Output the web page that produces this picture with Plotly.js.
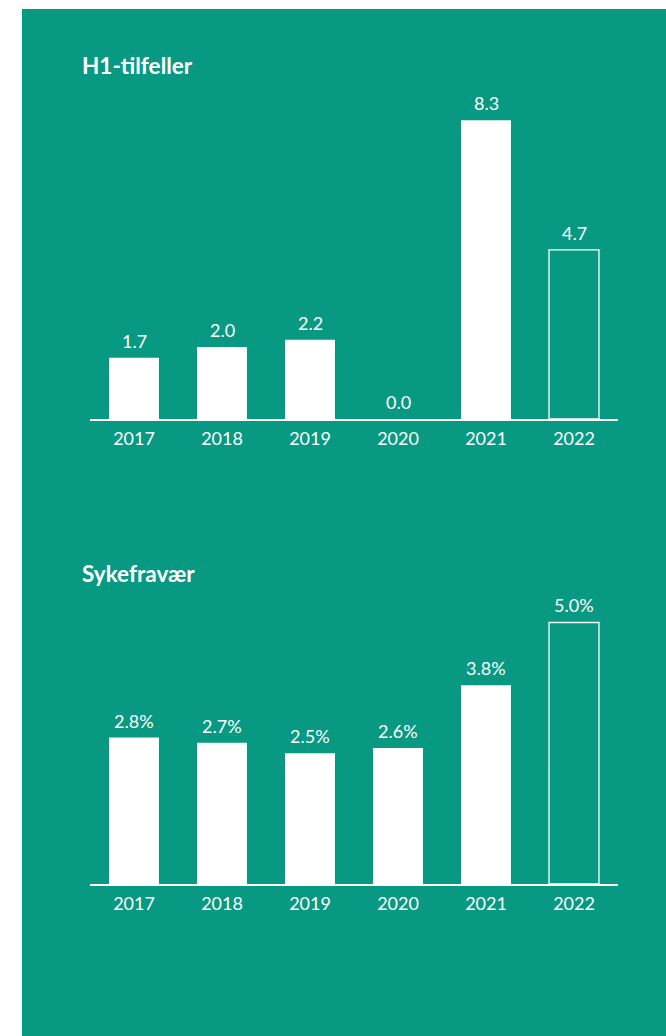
<!DOCTYPE html>
<html>
<head>
<meta charset="utf-8">
<script src="https://cdn.plot.ly/plotly-3.0.1.min.js"></script>
<style>
html,body{margin:0;padding:0;background:#fff;}
#chart{width:666px;height:1036px;}
</style>
</head>
<body>
<div id="chart"></div>
<script>
var years = ["2017", "2018", "2019", "2020", "2021", "2022"];
var h1Values = [1.7, 2.0, 2.2, 0.0, 8.3, 4.7];
var sykeValues = [2.8, 2.7, 2.5, 2.6, 3.8, 5.0];
var h1Labels = ["1.7", "2.0", "2.2", "0.0", "8.3", "4.7"];
var sykeLabels = ["2.8%", "2.7%", "2.5%", "2.6%", "3.8%", "5.0%"];
var titles = ["H1-tilfeller", "Sykefravær"];

var W = 666, H = 1036;
var GREEN = "#079982";
var FONT = "Lato, 'Open Sans', sans-serif";

function fills(n) { var a = []; for (var i = 0; i < n; i++) a.push(i === n - 1 ? "rgba(0,0,0,0)" : "#ffffff"); return a; }
function lws(n) { var a = []; for (var i = 0; i < n; i++) a.push(i === n - 1 ? 1.3 : 0); return a; }

var traces = [
  {type: "bar", x: years, y: h1Values, xaxis: "x", yaxis: "y",
   marker: {color: fills(years.length), line: {color: "#ffffff", width: lws(years.length)}},
   hoverinfo: "none", showlegend: false},
  {type: "bar", x: years, y: sykeValues, xaxis: "x2", yaxis: "y2",
   marker: {color: fills(years.length), line: {color: "#ffffff", width: lws(years.length)}},
   hoverinfo: "none", showlegend: false}
];

var annotations = [];
for (var i = 0; i < years.length; i++) {
  annotations.push({xref: "x", yref: "y", x: i, y: h1Values[i], text: h1Labels[i],
    showarrow: false, yanchor: "bottom", yshift: 4, font: {family: FONT, size: 18, color: "#ffffff"}});
  annotations.push({xref: "x2", yref: "y2", x: i, y: sykeValues[i], text: sykeLabels[i],
    showarrow: false, yanchor: "bottom", yshift: 4, font: {family: FONT, size: 18, color: "#ffffff"}});
}
annotations.push({xref: "paper", yref: "paper", x: 80 / W, y: 1 - 66 / H, xanchor: "left", yanchor: "middle",
  text: "<b>" + titles[0] + "</b>", showarrow: false, font: {family: FONT, size: 22.5, color: "#ffffff"}});
annotations.push({xref: "paper", yref: "paper", x: 80 / W, y: 1 - 573 / H, xanchor: "left", yanchor: "middle",
  text: "<b>" + titles[1] + "</b>", showarrow: false, font: {family: FONT, size: 22.5, color: "#ffffff"}});

var xDom = [90 / W, 618 / W];
function xax(anchor) {
  return {domain: xDom, anchor: anchor, type: "category", range: [-0.5, 5.5], fixedrange: true,
    showline: true, linecolor: "#ffffff", linewidth: 2, showgrid: false, zeroline: false,
    ticks: "", ticklabelstandoff: 2, tickfont: {family: FONT, size: 18, color: "#ffffff"}};
}
function yax(anchor, range, dom) {
  return {domain: dom, anchor: anchor, range: range, visible: true, showticklabels: false,
    showline: false, ticks: "", fixedrange: true, showgrid: false, zeroline: false};
}

var base1 = 419, top1 = base1 - 9 * 36;
var base2 = 884, top2 = base2 - 6 * 52.3;

var layout = {
  width: W, height: H,
  margin: {l: 0, r: 0, t: 0, b: 0},
  paper_bgcolor: "#ffffff",
  plot_bgcolor: "rgba(0,0,0,0)",
  bargap: 0.432,
  xaxis: xax("y"),
  yaxis: yax("x", [0, 9], [(H - base1) / H, (H - top1) / H]),
  xaxis2: xax("y2"),
  yaxis2: yax("x2", [0, 6], [(H - base2) / H, (H - top2) / H]),
  shapes: [{type: "rect", xref: "paper", yref: "paper", x0: 22 / W, x1: 1, y0: 0, y1: 1 - 9 / H,
    fillcolor: GREEN, line: {width: 0}, layer: "below"}],
  annotations: annotations,
  font: {family: FONT, color: "#ffffff"}
};

Plotly.newPlot("chart", traces, layout, {displayModeBar: false, staticPlot: true});
</script>
</body>
</html>
